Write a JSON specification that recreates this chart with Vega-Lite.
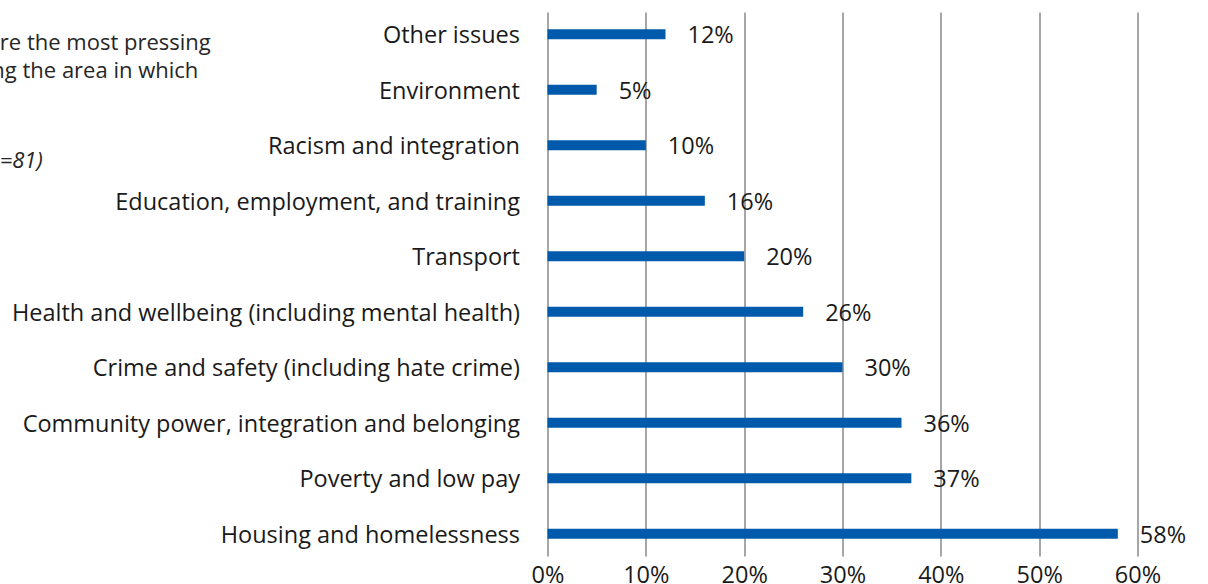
{
  "$schema": "https://vega.github.io/schema/vega-lite/v6.json",
  "autosize": {"type": "none"},
  "width": 590,
  "height": 544,
  "padding": {"left": 547.5, "top": 12, "right": 70, "bottom": 28},
  "background": "white",
  "title": {
    "text": ["Which of the following do you think are the most pressing", "issues for people we support, affecting the area in which", "you work?", ""],
    "subtitle": "(Base: all those answering the survey, n=81)",
    "anchor": "start",
    "orient": "top",
    "frame": "group",
    "font": "Open Sans",
    "fontSize": 22,
    "fontWeight": "normal",
    "color": "#262626",
    "lineHeight": 28,
    "subtitleFont": "Open Sans",
    "subtitleFontSize": 22,
    "subtitleFontStyle": "italic",
    "subtitleColor": "#262626",
    "subtitlePadding": 12,
    "dx": -927,
    "dy": 165
  },
  "data": {
    "values": [
      {"issue": "Other issues", "pct": 0.12},
      {"issue": "Environment", "pct": 0.05},
      {"issue": "Racism and integration", "pct": 0.10},
      {"issue": "Education, employment, and  training", "pct": 0.16},
      {"issue": "Transport", "pct": 0.20},
      {"issue": "Health and wellbeing (including mental health)", "pct": 0.26},
      {"issue": "Crime and safety (including hate crime)", "pct": 0.30},
      {"issue": "Community power, integration and belonging", "pct": 0.36},
      {"issue": "Poverty and low pay", "pct": 0.37},
      {"issue": "Housing and homelessness", "pct": 0.58}
    ]
  },
  "encoding": {
    "y": {
      "field": "issue",
      "type": "nominal",
      "sort": null,
      "scale": {"paddingInner": 0.82, "paddingOuter": 0.31},
      "axis": {
        "title": null,
        "ticks": false,
        "domain": false,
        "labelFont": "Open Sans",
        "labelFontSize": 23.5,
        "labelColor": "#1a1a1a",
        "labelPadding": 28,
        "labelOffset": 2,
        "labelLimit": 0
      }
    },
    "x": {
      "field": "pct",
      "type": "quantitative",
      "scale": {"domain": [0, 0.6], "nice": false},
      "axis": {
        "title": null,
        "format": ".0%",
        "values": [0, 0.1, 0.2, 0.3, 0.4, 0.5, 0.6],
        "ticks": false,
        "domain": false,
        "grid": true,
        "gridColor": "#a6a6a6",
        "gridWidth": 2,
        "labelFlush": false,
        "labelFont": "Open Sans",
        "labelFontSize": 23.5,
        "labelColor": "#1a1a1a",
        "labelPadding": 7
      }
    }
  },
  "layer": [
    {"mark": {"type": "bar", "color": "#005aab"}},
    {
      "mark": {"type": "text", "align": "left", "baseline": "middle", "dx": 22, "dy": 2, "font": "Open Sans", "fontSize": 23.5, "color": "#1a1a1a"},
      "encoding": {"text": {"field": "pct", "type": "quantitative", "format": ".0%"}}
    }
  ],
  "config": {"view": {"stroke": null}}
}
